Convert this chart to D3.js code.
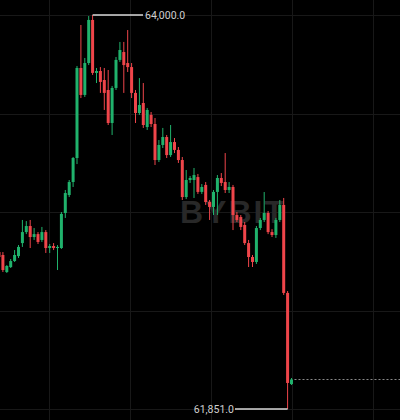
<!DOCTYPE html>
<html>
<head>
<meta charset="utf-8">
<script src="https://cdn.jsdelivr.net/npm/d3@7/dist/d3.min.js"></script>
<style>
  html, body { margin: 0; padding: 0; background: #000; }
  svg { display: block; }
</style>
</head>
<body>
<svg id="chart" width="400" height="420"></svg>
<script>
// ---- data (BTC/USDT candles) ----
const opens = [62707,62691,62598,62625,62658,62685,62756,62816,62849,62789,62805,62773,62816,62729,62740,62729,62729,62920,63018,63089,
  63220,63711,63564,63738,63973,63684,63694.5,63645.5,63591,63411,63602,63755,63798,63738,63716,63575,63465.5,63520,63389,63455,
  63405.5,63209,63291,63334.5,63236,63307,63264,63209,63007,63100,63100,63116,63035,63073,62980,62953,63035,63111,63089,63045.5,
  63062,62909,62898,62854.5,62756,62680,62653,62838,62882,62920,62816,62800,62882,62964,62484,61987];
const highs = [62718,62707,62636,62669,62718,62745.5,62882,62876,62882,62838,62816,62844,62827,62751,62756,62745,62925.5,63045.5,63100,63225.5,
  63722,63945.5,63765.5,63994.5,64000,63711,63716,63711,63700,63613,63771,63853,63853,63918,63738,63591,63656,63629,63493,63471,
  63438,63318,63384,63345.5,63400,63329,63280,63225.5,63154.5,63122,63165.5,63133,63078,63089,62991,63045.5,63127,63138,63247,63089,
  63073,62925.5,62909,62871,62773,62691,62849,62893,63034.5,62931,62832,62893,62991,63002,62494.5,62020];
const lows = [62669,62598,62593,62620,62653,62674.5,62735,62805,62729,62773,62751,62762,62702,62702,62718,62609,62724,62893,63007,63062,
  63187,63547,63553,63727,63673,63629,63575,63482,63400,63345.5,63591,63744,63575,63689,63547,63411,63455,63384,63373,63389,
  63182,63198,63274.5,63220,63225.5,63247,63193,62991,62996,63084,63002,63024,63024,62964,62882,62909,62909,63067,63029,63029,
  62827,62871,62827,62745.5,62625.5,62625.5,62642,62827,62871,62805,62789,62784,62871,62473,61851,61982];
const closes = [62680,62609,62631,62658,62691,62735,62816,62849,62789,62805,62762,62816,62729,62740,62729,62735,62915,63029,63089,63220,
  63711,63564,63738,63973,63684,63694.5,63635,63575,63411,63602,63755,63809,63727,63716,63575,63465.5,63509,63400,63482,63405.5,
  63209,63291,63334.5,63236,63307,63264,63209,63007,63100,63111,63127,63035,63062,62980,62953,63035,63111,63084,63045.5,63062,
  62909,62882,62844,62756,62680,62653,62838,62882,62920,62816,62800,62882,62964,62484,61993,62012];
const highLabel = "64,000.0";
const lowLabel = "61,851.0";
const watermark = "BYBIT";

const candles = opens.map((o, i) => ({ i, o, h: highs[i], l: lows[i], c: closes[i] }));

// ---- layout ----
const W = 400, H = 420;
const UP = "#20b26c", DOWN = "#ef454a";
const svg = d3.select("#chart");
svg.append("rect").attr("width", W).attr("height", H).attr("fill", "#000");

const x = d3.scaleLinear().domain([0, candles.length - 1]).range([-1, 291.5]);
const hi = d3.max(candles, d => d.h), lo = d3.min(candles, d => d.l);
const y = d3.scaleLinear().domain([lo, hi]).range([409, 15]);

// grid
const grid = svg.append("g").attr("stroke", "#181818").attr("stroke-width", 1);
d3.range(5).forEach(k => {
  const gy = Math.round(15 + k * 98.5) + 0.5;
  grid.append("line").attr("x1", 0).attr("x2", W).attr("y1", gy).attr("y2", gy);
});
d3.range(5).forEach(k => {
  const gx = 49 + k * 81 + 0.5;
  grid.append("line").attr("y1", 0).attr("y2", H).attr("x1", gx).attr("x2", gx);
});

// watermark
svg.append("text")
  .attr("x", 233).attr("y", 223)
  .attr("text-anchor", "middle")
  .attr("font-family", "Liberation Sans, Arial, sans-serif")
  .attr("font-weight", "bold")
  .attr("font-size", 32)
  .attr("letter-spacing", 2)
  .attr("fill", "#282828")
  .text(watermark);

// candles
const g = svg.append("g");
const bw = 3;
g.selectAll("line.wick").data(candles).join("line")
  .attr("class", "wick")
  .attr("x1", d => x(d.i)).attr("x2", d => x(d.i))
  .attr("y1", d => y(d.h)).attr("y2", d => y(d.l))
  .attr("stroke", d => d.c >= d.o ? UP : DOWN)
  .attr("stroke-width", 1);
g.selectAll("rect.body").data(candles).join("rect")
  .attr("class", "body")
  .attr("x", d => x(d.i) - bw / 2)
  .attr("width", bw)
  .attr("y", d => y(Math.max(d.o, d.c)))
  .attr("height", d => Math.max(1, Math.abs(y(d.o) - y(d.c))))
  .attr("fill", d => d.c >= d.o ? UP : DOWN);

// high / low labels
const hiC = candles.find(d => d.h === hi);
const loC = candles.find(d => d.l === lo);
svg.append("line")
  .attr("x1", x(hiC.i)).attr("x2", 143)
  .attr("y1", y(hi)).attr("y2", y(hi))
  .attr("stroke", "#d8d8d8").attr("stroke-width", 1.3);
svg.append("text")
  .attr("x", 145).attr("y", y(hi))
  .attr("dominant-baseline", "central")
  .attr("font-family", "Roboto, sans-serif").attr("font-size", 10.5)
  .attr("fill", "#cfcfcf")
  .text(highLabel);
svg.append("line")
  .attr("x1", 235).attr("x2", x(loC.i))
  .attr("y1", y(lo)).attr("y2", y(lo))
  .attr("stroke", "#d8d8d8").attr("stroke-width", 1.3);
svg.append("text")
  .attr("x", 234).attr("y", y(lo))
  .attr("text-anchor", "end")
  .attr("dominant-baseline", "central")
  .attr("font-family", "Roboto, sans-serif").attr("font-size", 10.5)
  .attr("fill", "#cfcfcf")
  .text(lowLabel);

// last price dotted line
const last = candles[candles.length - 1];
svg.append("line")
  .attr("x1", x(last.i) + 3).attr("x2", W)
  .attr("y1", Math.round(y(last.c)) + 0.5).attr("y2", Math.round(y(last.c)) + 0.5)
  .attr("stroke", "#8a8a8a").attr("stroke-width", 1)
  .attr("stroke-dasharray", "2,2");
</script>
</body>
</html>
